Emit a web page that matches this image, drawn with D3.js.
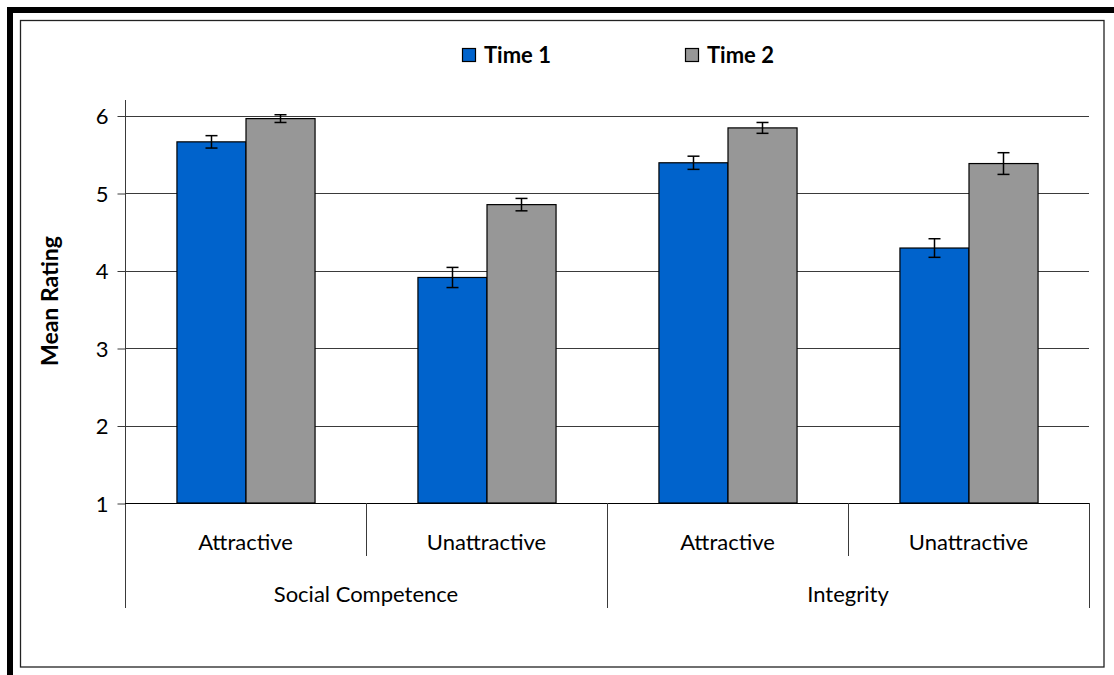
<!DOCTYPE html>
<html>
<head>
<meta charset="utf-8">
<script src="https://cdn.jsdelivr.net/npm/d3@7/dist/d3.min.js"></script>
<style>
  html, body { margin: 0; padding: 0; background: #fff; }
  svg { display: block; }
  text { font-family: Lato, "Open Sans", sans-serif; fill: #000; }
</style>
</head>
<body>
<svg id="chart" width="1114" height="675"></svg>
<script>
// Mean ratings by trait domain and target attractiveness
const domains = ["Social Competence", "Integrity"];
const conditions = ["Attractive", "Unattractive"];
const seriesNames = ["Time 1", "Time 2"];
const seriesColors = ["#0063cc", "#979797"];
const time1Means = [5.66, 3.91, 5.39, 4.29];
const time2Means = [5.96, 4.85, 5.84, 5.38];
const time1Errors = [0.08, 0.13, 0.085, 0.12];
const time2Errors = [0.05, 0.08, 0.07, 0.14];
const yTicks = [1, 2, 3, 4, 5, 6];

const svg = d3.select("#chart");

// Frame: heavy top/left bars and a thin inner border
svg.append("rect").attr("x", 7).attr("y", 7).attr("width", 1107).attr("height", 6).attr("fill", "#000");
svg.append("rect").attr("x", 7).attr("y", 7).attr("width", 6).attr("height", 668).attr("fill", "#000");
svg.append("rect").attr("x", 20.5).attr("y", 20.5).attr("width", 1083.5).attr("height", 646.5)
  .attr("fill", "none").attr("stroke", "#222").attr("stroke-width", 1.3);

const plotLeft = 125, plotRight = 1089, plotTop = 100, plotBottom = 503;

// Flat list of the four condition cells
const cells = [];
domains.forEach((d, i) => conditions.forEach((c, j) => cells.push({ domain: d, condition: c, key: i * 2 + j })));

const x0 = d3.scaleBand().domain(cells.map(c => c.key)).range([plotLeft, plotRight]).paddingInner(0).paddingOuter(0);
const x1 = d3.scaleBand().domain(seriesNames).range([0, x0.bandwidth()]).paddingInner(0).paddingOuter(0.745);
const y = d3.scaleLinear().domain([1, 6]).range([plotBottom, plotBottom - 5 * 77.5]);

// Gridlines
svg.append("g").selectAll("line").data(yTicks.filter(t => t > 1)).join("line")
  .attr("x1", plotLeft).attr("x2", plotRight)
  .attr("y1", d => Math.round(y(d)) + 0.5).attr("y2", d => Math.round(y(d)) + 0.5)
  .attr("stroke", "#3a3a3a").attr("stroke-width", 1);

// Y axis
const yAxis = d3.axisLeft(y).tickValues(yTicks).tickSize(8).tickSizeOuter(0).tickFormat(d3.format("d"));
const gy = svg.append("g").attr("transform", `translate(${plotLeft + 0.5},0.5)`).call(yAxis);
gy.select(".domain").remove();
gy.selectAll(".tick line").attr("stroke", "#3a3a3a");
gy.selectAll(".tick text").attr("x", -17).attr("dy", "0.36em")
  .style("font-size", "22px").style("font-family", "Lato, sans-serif").attr("fill", "#000");
svg.append("line").attr("x1", plotLeft + 0.5).attr("x2", plotLeft + 0.5).attr("y1", plotTop).attr("y2", 608)
  .attr("stroke", "#3a3a3a");

// Baseline
svg.append("line").attr("x1", plotLeft).attr("x2", plotRight).attr("y1", plotBottom + 0.5).attr("y2", plotBottom + 0.5)
  .attr("stroke", "#000");

// Category separators: short for conditions, long for domain boundaries
const bw = x0.bandwidth();
const bounds = [plotLeft + bw, plotLeft + 2 * bw, plotLeft + 3 * bw, plotRight];
svg.append("g").selectAll("line").data(bounds).join("line")
  .attr("x1", d => Math.round(d) + 0.5).attr("x2", d => Math.round(d) + 0.5)
  .attr("y1", plotBottom).attr("y2", (d, i) => (i % 2 === 0 ? 556 : 608))
  .attr("stroke", "#3a3a3a");

// Condition labels
svg.append("g").selectAll("text").data(cells).join("text")
  .attr("x", d => x0(d.key) + bw / 2).attr("y", 550)
  .attr("text-anchor", "middle").style("font-size", "22px").text(d => d.condition);

// Domain labels
svg.append("g").selectAll("text").data(domains).join("text")
  .attr("x", (d, i) => x0(i * 2) + bw).attr("y", 602)
  .attr("text-anchor", "middle").style("font-size", "22px").text(d => d);

// Bars
const barData = [];
cells.forEach(c => {
  barData.push({ key: c.key, s: seriesNames[0], v: time1Means[c.key], e: time1Errors[c.key], color: seriesColors[0] });
  barData.push({ key: c.key, s: seriesNames[1], v: time2Means[c.key], e: time2Errors[c.key], color: seriesColors[1] });
});

svg.append("g").selectAll("rect").data(barData).join("rect")
  .attr("x", d => x0(d.key) + x1(d.s) + 0.5)
  .attr("width", x1.bandwidth())
  .attr("y", d => y(d.v))
  .attr("height", d => y(1) - y(d.v))
  .attr("fill", d => d.color)
  .attr("stroke", "#000").attr("stroke-width", 1.2);

// Error bars
const eb = svg.append("g").selectAll("g").data(barData).join("g")
  .attr("transform", d => `translate(${Math.round(x0(d.key) + x1(d.s) + x1.bandwidth() / 2) + 0.5},0)`);
eb.append("line").attr("x1", 0).attr("x2", 0)
  .attr("y1", d => y(d.v + d.e)).attr("y2", d => y(d.v - d.e))
  .attr("stroke", "#000").attr("stroke-width", 1.5);
eb.append("line").attr("x1", -6).attr("x2", 6)
  .attr("y1", d => y(d.v + d.e)).attr("y2", d => y(d.v + d.e))
  .attr("stroke", "#000").attr("stroke-width", 1.5);
eb.append("line").attr("x1", -6).attr("x2", 6)
  .attr("y1", d => y(d.v - d.e)).attr("y2", d => y(d.v - d.e))
  .attr("stroke", "#000").attr("stroke-width", 1.5);

// Y axis title
svg.append("text").attr("transform", "translate(58,301) rotate(-90)")
  .attr("text-anchor", "middle").style("font-size", "23px").style("font-weight", "bold")
  .text("Mean Rating");

// Legend
const legendX = [462, 685];
const lg = svg.append("g").selectAll("g").data(seriesNames).join("g")
  .attr("transform", (d, i) => `translate(${legendX[i]},48)`);
lg.append("rect").attr("x", 0.5).attr("y", 0.5).attr("width", 13).attr("height", 13)
  .attr("fill", (d, i) => seriesColors[i]).attr("stroke", "#000").attr("stroke-width", 1.2);
lg.append("text").attr("x", 22).attr("y", 15).style("font-size", "22px").style("font-weight", "bold")
  .text(d => d);
</script>
</body>
</html>
